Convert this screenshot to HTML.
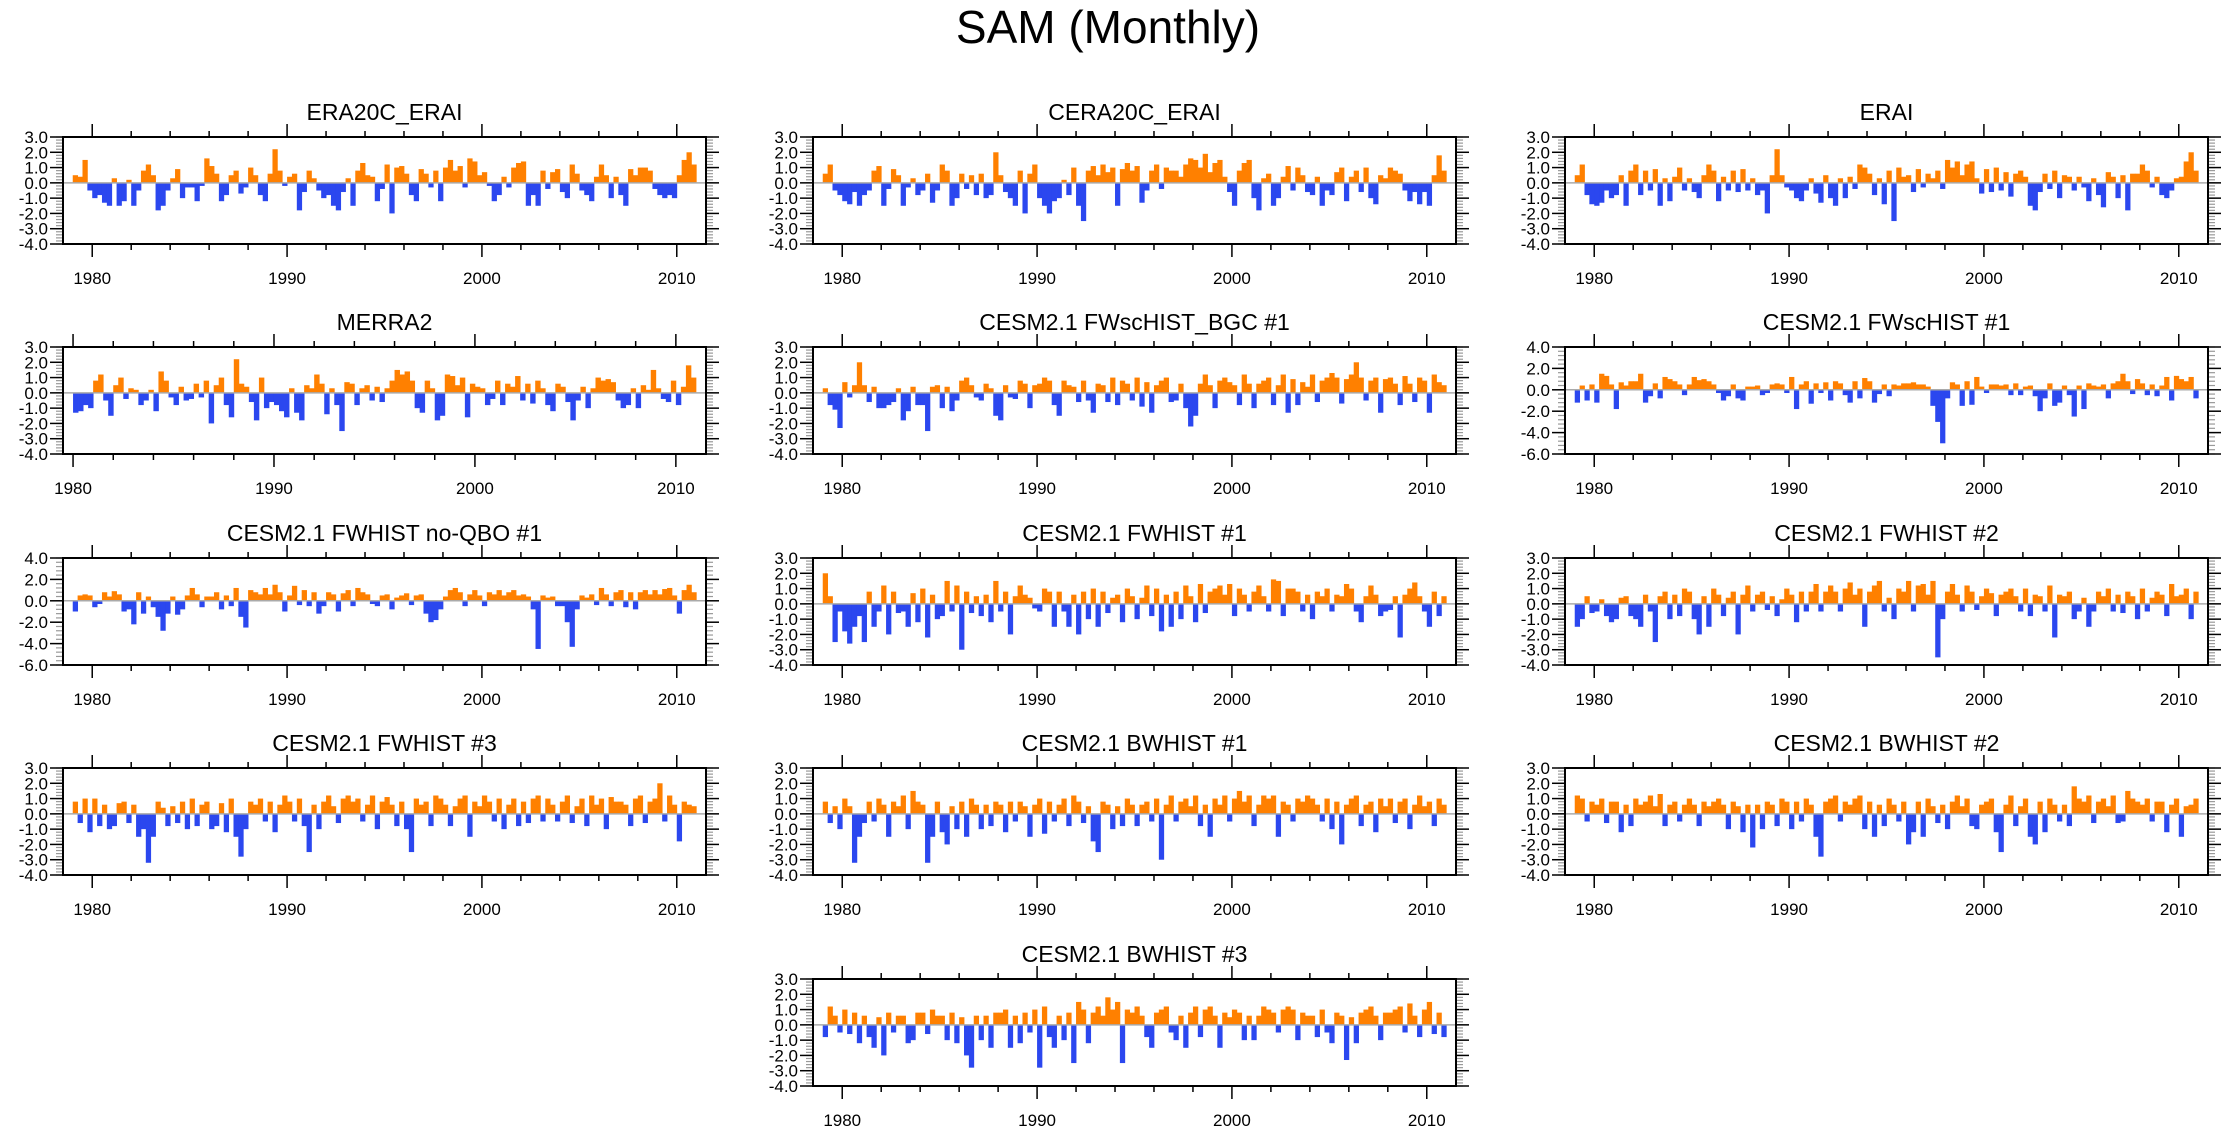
<!DOCTYPE html>
<html><head><meta charset="utf-8"><title>SAM (Monthly)</title>
<style>html,body{margin:0;padding:0;background:#fff}svg{display:block;font-family:"Liberation Sans",Arial,sans-serif}</style>
</head><body>
<svg id="chart" width="2230" height="1133" viewBox="0 0 2230 1133" xmlns="http://www.w3.org/2000/svg">
<rect width="2230" height="1133" fill="#fff"/>
<text x="1108" y="43" font-size="46" text-anchor="middle">SAM (Monthly)</text>
<g id="panels"></g>
</svg>
<script>
// Quarterly SAM index estimates (JFM, AMJ, JAS, OND) per panel
const era20cErai=[0.5,0.4,1.5,-0.5,-1.0,-0.8,-1.3,-1.5,0.3,-1.5,-1.2,0.2,-1.5,-0.5,0.8,1.2,0.5,-1.8,-1.5,-0.5,0.3,0.9,-1.0,-0.3,-0.3,-1.2,-0.2,1.6,1.1,0.6,-1.2,-0.8,0.5,0.8,-0.7,-0.3,1.0,0.5,-0.8,-1.2,0.6,2.2,0.8,-0.2,0.4,0.6,-1.8,-0.6,0.8,0.3,-0.5,-1.0,-0.8,-1.5,-1.8,-0.6,0.3,-1.5,0.8,1.3,0.5,0.4,-1.2,-0.4,1.2,-2.0,1.0,1.1,0.6,-0.8,-1.2,0.9,0.6,-0.3,0.8,-1.2,1.0,1.5,0.8,1.1,-0.3,1.6,1.4,0.5,0.7,-0.2,-1.2,-0.8,0.4,-0.3,1.0,1.3,1.4,-1.5,-0.8,-1.5,0.8,-0.4,0.7,0.9,-0.6,-1.0,1.2,0.6,-0.5,-0.8,-1.2,0.4,1.2,0.5,-1.0,0.4,-0.8,-1.5,0.9,0.5,1.0,1.0,0.8,-0.4,-0.8,-1.0,-0.8,-1.0,0.5,1.5,2.0,1.2];
const cera20cErai=[0.6,1.2,-0.5,-0.8,-1.2,-1.4,-0.6,-1.5,-0.8,-0.5,0.8,1.1,-1.5,-0.4,0.9,0.5,-1.5,-0.3,0.3,-0.8,-0.5,0.6,-1.3,-0.5,1.2,0.8,-1.5,-1.0,0.6,-0.4,0.5,-0.8,0.6,-1.0,-0.8,2.0,0.5,-0.6,-1.0,-1.5,0.8,-2.0,0.6,1.2,-1.0,-1.5,-2.0,-1.2,-1.0,0.2,-0.8,1.0,-1.5,-2.5,0.8,1.1,0.5,1.2,0.7,1.0,-1.5,0.9,1.3,0.8,1.1,-1.3,-0.5,0.8,1.2,-0.4,1.0,0.8,0.8,0.4,1.2,1.6,1.5,1.0,1.9,0.7,1.3,1.5,0.4,-0.6,-1.5,0.8,1.3,1.5,-1.0,-1.8,0.3,0.6,-1.5,-1.0,0.4,1.1,-0.5,1.0,0.5,-0.6,-0.8,0.4,-1.5,-0.5,-0.8,0.7,1.0,-1.2,0.4,0.8,-0.6,1.0,-1.0,-1.4,0.5,0.3,1.0,0.8,0.6,-0.5,-1.2,-0.6,-1.4,-0.6,-1.5,0.5,1.8,0.8];
const erai=[0.5,1.2,-0.8,-1.4,-1.5,-1.3,-0.5,-1.0,-0.8,0.5,-1.5,0.8,1.2,-0.8,0.8,-0.5,0.9,-1.5,0.3,-1.2,0.4,1.0,-0.5,0.3,-0.6,-1.0,0.5,1.2,0.8,-1.2,0.4,-0.5,0.8,-0.6,0.9,-0.5,0.3,-0.8,-0.5,-2.0,0.5,2.2,0.5,-0.3,-0.5,-1.0,-1.2,-0.5,0.3,-0.7,-1.3,0.5,-1.0,-1.5,0.3,-1.0,0.4,-0.4,1.2,1.0,0.6,-0.8,0.3,-1.4,0.8,-2.5,1.0,0.4,0.5,-0.6,0.9,-0.3,0.6,0.3,0.8,-0.4,1.5,1.0,1.4,0.5,1.2,1.4,0.3,-0.7,0.9,-0.6,1.0,-0.5,0.7,-0.9,0.6,0.8,0.4,-1.5,-1.8,-0.6,0.6,-0.4,0.8,-1.0,0.5,0.4,-0.5,0.4,-0.3,-1.2,0.3,-0.8,-1.6,0.7,0.4,-1.0,0.5,-1.8,0.6,0.6,1.2,0.8,-0.3,0.4,-0.8,-1.0,-0.5,0.3,0.4,1.4,2.0,0.8];
const merra2=[-1.3,-1.2,-0.8,-1.0,0.8,1.2,-0.5,-1.5,0.5,1.0,-0.4,0.3,0.2,-0.8,-0.5,0.2,-1.2,1.4,0.8,-0.3,-0.8,0.4,-0.5,-0.4,0.6,-0.3,0.8,-2.0,0.5,1.0,-0.8,-1.6,2.2,0.6,0.4,-0.6,-1.8,1.0,-1.0,-0.6,-0.8,-1.2,-1.6,0.3,-1.3,-1.8,0.5,0.3,1.2,0.6,-1.4,0.3,-0.8,-2.5,0.7,0.6,-0.8,0.3,0.5,-0.5,0.4,-0.6,0.3,0.8,1.5,1.2,1.4,0.8,-1.0,-1.3,0.8,0.3,-1.8,-1.5,1.2,1.1,0.5,1.0,-1.6,0.6,0.4,0.3,-0.8,-0.4,0.8,-0.8,0.6,0.4,1.1,-0.5,0.6,-0.7,0.8,0.3,-0.8,-1.2,0.6,0.4,-0.6,-1.8,-0.5,0.4,-1.0,0.3,1.0,0.8,0.9,0.7,-0.5,-1.0,-0.8,0.3,-1.0,0.5,0.2,1.5,0.3,-0.4,-0.6,0.8,-0.8,0.4,1.8,1.0];
const fwschistBgc1=[0.3,-0.8,-1.1,-2.3,0.7,-0.3,0.5,2.0,0.5,-0.6,0.4,-1.0,-1.0,-0.8,-0.6,0.3,-1.8,-1.2,0.4,-0.8,-0.8,-2.5,0.4,0.5,-1.0,0.4,-1.2,-0.5,0.8,1.0,0.5,-0.3,-0.5,0.6,0.3,-1.5,-1.8,0.5,-0.3,-0.4,0.8,0.6,-1.0,0.5,0.6,1.0,0.8,-0.8,-1.5,0.8,0.5,0.4,-0.6,0.8,-0.5,-1.3,0.6,0.5,-0.6,1.0,-0.8,0.8,0.6,-0.5,1.0,-0.9,0.7,-1.3,0.5,0.8,1.0,-0.6,-0.5,0.6,-1.0,-2.2,-1.5,0.6,1.2,0.5,-1.0,0.8,1.0,0.7,0.5,-0.8,1.2,0.6,-1.0,0.6,0.8,1.0,-0.8,0.5,1.2,-1.3,0.9,-0.8,0.7,0.4,1.2,-0.6,0.8,1.0,1.3,1.0,-0.7,0.9,1.2,2.0,1.0,-0.5,0.8,1.0,-1.3,0.9,1.0,0.6,-0.8,1.1,0.6,-0.6,1.0,0.8,-1.3,1.2,0.7,0.5];
const fwschist1=[-1.2,0.4,-1.0,0.5,-1.2,1.5,1.3,0.5,-1.8,0.7,0.4,0.8,0.8,1.5,-1.2,-0.6,0.6,-0.8,1.2,1.0,0.8,0.5,-0.5,0.5,1.2,0.9,1.0,0.8,0.5,-0.3,-1.0,-0.6,0.5,-0.8,-1.0,0.3,0.3,0.4,-0.5,-0.3,0.5,0.6,0.5,-0.3,1.2,-1.8,0.5,0.8,-1.3,0.6,-0.3,0.7,-1.0,0.8,0.6,-0.5,-1.2,0.8,-0.8,1.1,0.8,-1.2,-0.4,0.5,-0.6,0.5,0.4,0.6,0.6,0.7,0.5,0.5,0.3,-1.5,-3.0,-5.0,-0.8,0.7,0.5,-1.5,0.8,-1.4,1.2,0.3,-0.3,0.5,0.5,0.4,0.5,-0.5,0.6,-0.5,0.3,0.4,-0.6,-2.0,-0.8,0.6,-1.5,-1.2,0.4,-0.5,-2.5,0.4,-1.8,0.6,0.4,0.3,0.5,-0.8,0.6,0.8,1.5,0.8,-0.4,1.0,0.6,-0.5,0.5,-0.6,0.4,1.2,-1.0,1.3,1.0,0.8,1.2,-0.8];
const fwhistNoQbo1=[-1.0,0.5,0.6,0.5,-0.6,-0.3,0.8,0.4,0.9,0.6,-1.0,-0.8,-2.2,0.8,-1.2,0.4,-0.6,-1.5,-2.8,-1.2,0.4,-1.3,-0.8,0.5,1.2,0.6,-0.6,0.4,0.4,0.8,-0.8,0.5,-0.5,1.2,-1.5,-2.5,1.0,0.8,0.6,1.2,0.6,1.5,0.8,-1.0,0.5,1.4,-0.4,1.0,-0.5,0.8,-1.2,-0.5,0.8,0.6,-1.0,0.7,1.0,-0.5,1.2,0.8,0.6,-0.3,-0.5,0.5,0.6,-0.8,0.3,0.5,0.7,-0.4,0.5,0.6,-1.2,-2.0,-1.8,-0.8,0.4,1.0,1.2,0.8,-0.5,0.6,1.0,0.5,-0.5,0.8,0.6,1.0,0.5,0.8,1.0,0.5,0.6,0.4,-0.8,-4.5,0.5,0.3,0.4,-0.5,-0.5,-2.0,-4.3,-0.8,0.5,0.3,0.6,-0.4,1.2,0.6,-0.5,0.8,1.0,-0.6,0.8,-0.8,0.8,1.0,0.6,1.0,0.6,1.1,1.2,0.5,-1.2,1.0,1.5,0.8];
const fwhist1=[2.0,0.5,-2.5,-0.5,-1.8,-2.6,-1.5,-0.8,-2.5,0.8,-1.5,-0.5,1.2,-2.0,0.8,-0.6,-0.5,-1.5,0.7,-1.2,1.0,-2.2,0.6,-1.0,-0.8,1.5,-0.5,1.2,-3.0,0.8,-0.6,0.5,-0.8,0.6,-1.2,1.5,-0.5,0.8,-2.0,0.5,1.2,0.6,0.4,-0.3,-0.5,1.0,0.8,-1.5,0.8,-0.5,-1.5,0.6,-2.0,0.8,-1.0,1.0,-1.5,0.8,-0.6,0.4,0.6,-1.2,1.0,0.5,-1.0,0.4,1.2,-0.8,1.0,-1.8,0.6,-1.5,0.8,-1.0,1.2,0.5,-1.2,1.3,-0.6,0.8,1.0,1.2,0.6,1.3,-0.8,1.0,0.6,-0.5,0.8,1.2,0.5,-0.5,1.6,1.5,-0.8,1.0,1.0,0.8,-0.5,0.6,-1.0,0.8,0.5,1.0,-0.5,0.6,0.5,1.3,1.0,-0.5,-1.2,0.5,1.2,0.6,-0.8,-0.5,-0.4,0.5,-2.2,0.6,1.0,1.4,0.5,-0.5,-1.5,0.8,-0.8,0.5];
const fwhist2=[-1.5,-1.0,0.5,-0.6,-0.5,0.3,-0.8,-1.2,-1.0,0.4,0.5,-0.8,-1.0,-1.5,0.6,-0.5,-2.5,0.5,0.8,-1.0,0.6,-0.8,1.0,0.8,-1.0,-2.0,0.5,-1.5,1.0,0.6,-0.8,0.4,0.8,-2.0,0.6,1.2,-0.5,0.6,0.8,-0.4,0.5,-0.8,0.3,1.0,0.6,-1.2,0.8,-0.5,0.8,1.3,-0.5,0.8,1.2,0.8,-0.5,1.0,1.4,0.6,1.0,-1.5,0.8,1.2,1.5,-0.5,0.4,-1.0,1.0,0.8,1.5,-0.5,1.2,1.3,0.6,1.5,-3.5,-1.0,0.8,1.3,0.6,-0.5,1.2,0.8,-0.4,0.5,1.0,0.7,-0.8,0.6,0.8,1.0,0.5,-0.5,1.0,-0.8,0.6,0.5,-0.5,1.2,-2.2,0.6,0.5,0.8,-1.0,-0.5,0.4,-1.5,-0.5,0.8,0.5,1.0,-0.5,0.6,-0.6,0.8,0.5,-1.0,1.0,-0.5,0.4,0.8,0.6,-0.8,1.3,0.5,0.6,1.0,-1.0,0.8];
const fwhist3=[0.8,-0.6,1.0,-1.2,1.0,-0.8,0.6,-1.0,-0.8,0.7,0.8,-0.6,0.6,-1.5,-1.0,-3.2,-1.5,0.8,0.4,-0.8,0.5,-0.6,0.8,-1.0,1.0,-0.8,0.6,0.8,-1.0,-0.8,0.7,-1.2,1.0,-1.5,-2.8,-1.0,0.8,0.6,1.0,-0.5,0.8,-1.2,0.6,1.2,0.8,-0.5,1.0,-0.8,-2.5,0.6,-1.0,0.8,1.2,0.5,-0.6,1.0,1.2,0.8,1.0,-0.5,0.6,1.2,-1.0,0.8,1.1,0.6,-0.8,0.8,-1.0,-2.5,1.0,0.6,0.8,-0.8,1.2,1.0,0.6,-0.8,0.5,1.0,1.2,-1.5,0.8,0.5,1.2,0.8,-0.5,1.0,-1.0,0.6,1.0,-0.8,0.8,-0.6,1.0,1.2,-0.5,1.0,0.6,-0.5,0.8,1.2,-0.6,0.5,1.0,-0.8,1.2,0.6,1.0,-1.0,1.1,0.8,0.8,0.6,-0.8,1.0,1.2,-0.6,0.8,1.0,2.0,-0.5,1.2,0.6,-1.8,0.8,0.6,0.5];
const bwhist1=[0.8,-0.6,0.5,-1.0,1.0,0.5,-3.2,-1.5,-0.6,0.8,-0.5,1.0,0.6,-1.5,0.8,0.5,1.2,-1.0,1.5,0.8,0.6,-3.2,-1.5,0.8,-1.2,-2.0,0.5,-1.0,0.8,-1.5,1.0,0.6,-1.0,0.6,-0.8,0.8,0.6,-1.2,0.8,-0.5,0.8,0.5,-1.5,0.6,1.0,-1.3,0.8,-0.5,0.6,1.0,-0.8,1.2,0.8,-0.6,0.5,-1.8,-2.5,0.8,0.6,-1.0,0.5,-0.8,1.0,0.6,-0.8,0.6,0.8,-0.5,1.0,-3.0,0.6,1.2,-0.5,0.8,1.0,0.5,1.2,-0.8,0.6,-1.5,1.0,0.6,1.2,-0.5,1.0,1.5,0.8,1.2,-0.8,0.6,1.2,1.0,1.2,-1.5,0.8,0.6,-0.5,1.0,0.8,1.2,1.0,0.6,-0.5,1.0,-1.0,0.8,-2.0,0.6,1.0,1.2,-0.8,0.6,0.8,-1.2,1.0,0.5,1.0,-0.6,0.8,1.0,-1.0,0.6,1.2,0.5,0.8,-0.8,1.0,0.6];
const bwhist2=[1.2,1.0,-0.5,0.8,0.6,1.0,-0.6,0.8,0.8,-1.2,0.6,-0.8,1.0,0.6,0.8,1.2,0.5,1.3,-0.8,0.6,0.8,-0.5,0.6,1.0,0.6,-0.8,0.8,0.5,0.8,1.0,0.6,-1.0,0.8,0.5,-1.2,0.6,-2.2,0.6,-1.0,0.8,0.6,-0.8,1.0,0.8,-1.0,0.8,-0.5,1.0,0.6,-1.5,-2.8,0.8,1.0,1.2,-0.5,0.8,0.6,1.0,1.2,-1.0,0.8,-1.5,0.6,-0.8,1.0,0.6,-0.5,0.8,-2.0,-1.2,0.8,-1.5,1.0,0.5,-0.6,0.6,-1.0,0.8,1.2,0.5,1.0,-0.8,-1.0,0.6,0.8,1.0,-1.2,-2.5,0.6,1.2,-0.8,0.5,1.0,-1.5,-2.0,0.8,-1.2,1.0,0.6,-0.5,0.6,-0.8,1.8,1.0,0.8,1.2,-0.6,0.8,1.0,0.5,1.2,-0.6,-0.5,1.5,1.0,0.8,0.6,1.0,-0.5,0.8,0.8,-1.2,0.6,1.0,-1.5,0.5,0.6,1.0];
const bwhist3=[-0.8,1.2,0.6,-0.5,1.0,-0.6,0.8,-1.2,0.6,-0.8,-1.5,0.5,-2.0,0.8,-0.5,0.6,0.6,-1.2,-1.0,0.8,0.8,-0.6,1.0,0.6,0.6,-1.0,0.8,-1.2,0.5,-2.0,-2.8,0.6,-1.0,0.6,-1.5,0.8,0.8,1.0,-1.5,0.6,-1.2,0.8,-0.5,1.0,-2.8,1.2,-0.8,-1.5,0.6,-1.0,0.8,-2.5,1.5,1.0,-1.2,0.8,1.2,0.6,1.8,1.0,1.5,-2.5,1.0,0.8,1.2,0.6,-0.8,-1.5,0.8,1.0,1.2,-0.5,-1.0,0.6,-1.5,0.8,1.2,-0.8,1.0,1.2,0.6,-1.5,0.8,0.5,1.0,0.8,-1.0,0.6,-1.0,0.6,1.2,1.0,0.8,-0.5,1.0,1.2,1.0,-1.0,0.8,0.6,0.6,-0.8,1.0,-0.5,-1.2,0.8,0.6,-2.3,0.5,-1.2,0.8,1.0,1.2,0.6,-1.0,0.8,0.8,1.0,1.2,-0.5,1.4,0.6,-0.8,1.0,1.5,-0.6,0.8,-0.8];

const xTickYears=[1980,1990,2000,2010];
const yTicks1=["3.0","2.0","1.0","0.0","-1.0","-2.0","-3.0","-4.0"];
const yTicks2=["4.0","2.0","0.0","-2.0","-4.0","-6.0"];

// layout
const colX=[63,813,1565], rowY=[137,347,558,768,979], PW=643, PH=107;
const panels=[
 {t:"ERA20C_ERAI",d:era20cErai,s:1979,c:0,r:0,yt:yTicks1,x0:1978.5},
 {t:"CERA20C_ERAI",d:cera20cErai,s:1979,c:1,r:0,yt:yTicks1,x0:1978.5},
 {t:"ERAI",d:erai,s:1979,c:2,r:0,yt:yTicks1,x0:1978.5},
 {t:"MERRA2",d:merra2,s:1980,c:0,r:1,yt:yTicks1,x0:1979.5},
 {t:"CESM2.1 FWscHIST_BGC #1",d:fwschistBgc1,s:1979,c:1,r:1,yt:yTicks1,x0:1978.5},
 {t:"CESM2.1 FWscHIST #1",d:fwschist1,s:1979,c:2,r:1,yt:yTicks2,x0:1978.5},
 {t:"CESM2.1 FWHIST no-QBO #1",d:fwhistNoQbo1,s:1979,c:0,r:2,yt:yTicks2,x0:1978.5},
 {t:"CESM2.1 FWHIST #1",d:fwhist1,s:1979,c:1,r:2,yt:yTicks1,x0:1978.5},
 {t:"CESM2.1 FWHIST #2",d:fwhist2,s:1979,c:2,r:2,yt:yTicks1,x0:1978.5},
 {t:"CESM2.1 FWHIST #3",d:fwhist3,s:1979,c:0,r:3,yt:yTicks1,x0:1978.5},
 {t:"CESM2.1 BWHIST #1",d:bwhist1,s:1979,c:1,r:3,yt:yTicks1,x0:1978.5},
 {t:"CESM2.1 BWHIST #2",d:bwhist2,s:1979,c:2,r:3,yt:yTicks1,x0:1978.5},
 {t:"CESM2.1 BWHIST #3",d:bwhist3,s:1979,c:1,r:4,yt:yTicks1,x0:1978.5}
];
const NS="http://www.w3.org/2000/svg";
function mk(tag,attrs,parent){const e=document.createElementNS(NS,tag);for(const k in attrs)e.setAttribute(k,attrs[k]);parent.appendChild(e);return e;}
const root=document.getElementById('panels');
panels.forEach((p,pi)=>{
 const L=colX[p.c],T=rowY[p.r],R=L+PW,B=T+PH;
 const x1=2011.5;
 const yMax=parseFloat(p.yt[0]),yMin=parseFloat(p.yt[p.yt.length-1]);
 const step=parseFloat(p.yt[0])-parseFloat(p.yt[1]);
 const xs=v=>L+(v-p.x0)/(x1-p.x0)*PW;
 const ys=v=>T+(yMax-v)/(yMax-yMin)*PH;
 const g=mk('g',{},root);
 
 
 const tt=mk('text',{x:(L+R)/2,y:T-17,'font-size':23,'text-anchor':'middle'},g);tt.textContent=p.t;
 
 
 // bars
 const bw=(xs(0.25)-xs(0))+0.4;
 p.d.forEach((v,i)=>{
  const t=p.s+i*0.25;
  const y0=ys(0),yv=ys(v);
  const b=mk('rect',{x:xs(t),y:Math.min(y0,yv),width:bw,height:Math.abs(yv-y0),fill:v>=0?'#ff8000':'#2b47ef'},g);
  
  
 });
 const zl=mk('line',{x1:L,x2:R,y1:ys(0),y2:ys(0),stroke:'#aaa','stroke-width':1.5},g);
 
 
 // x ticks
 for(let yr=1980;yr<=2010;yr+=2){
  const X=xs(yr),len=(yr%10===0)?13:6;
  mk('line',{x1:X,x2:X,y1:T,y2:T-len,stroke:'#000','stroke-width':1.5},g);
  mk('line',{x1:X,x2:X,y1:B,y2:B+len,stroke:'#000','stroke-width':1.5},g);
 }
 xTickYears.forEach(yr=>{
  const tx=mk('text',{x:xs(yr),y:B+40,'font-size':17,'text-anchor':'middle'},g);tx.textContent=yr;
  
  
 });
 // y ticks
 const minor=step/5;
 for(let v=yMin;v<=yMax+1e-6;v+=minor){
  const Y=ys(v);
  mk('line',{x1:L,x2:L-7,y1:Y,y2:Y,stroke:'#999','stroke-width':1.2},g);
  mk('line',{x1:R,x2:R+7,y1:Y,y2:Y,stroke:'#999','stroke-width':1.2},g);
 }
 p.yt.forEach(lab=>{
  const Y=ys(parseFloat(lab));
  mk('line',{x1:L,x2:L-13,y1:Y,y2:Y,stroke:'#000','stroke-width':1.5},g);
  mk('line',{x1:R,x2:R+13,y1:Y,y2:Y,stroke:'#000','stroke-width':1.5},g);
  const ty=mk('text',{x:L-15,y:Y+6,'font-size':17,'text-anchor':'end'},g);ty.textContent=lab;
  
  
 });
 const box=mk('rect',{x:L,y:T,width:PW,height:PH,fill:'none',stroke:'#000','stroke-width':2},g);
 
 
});
</script>
</body></html>
